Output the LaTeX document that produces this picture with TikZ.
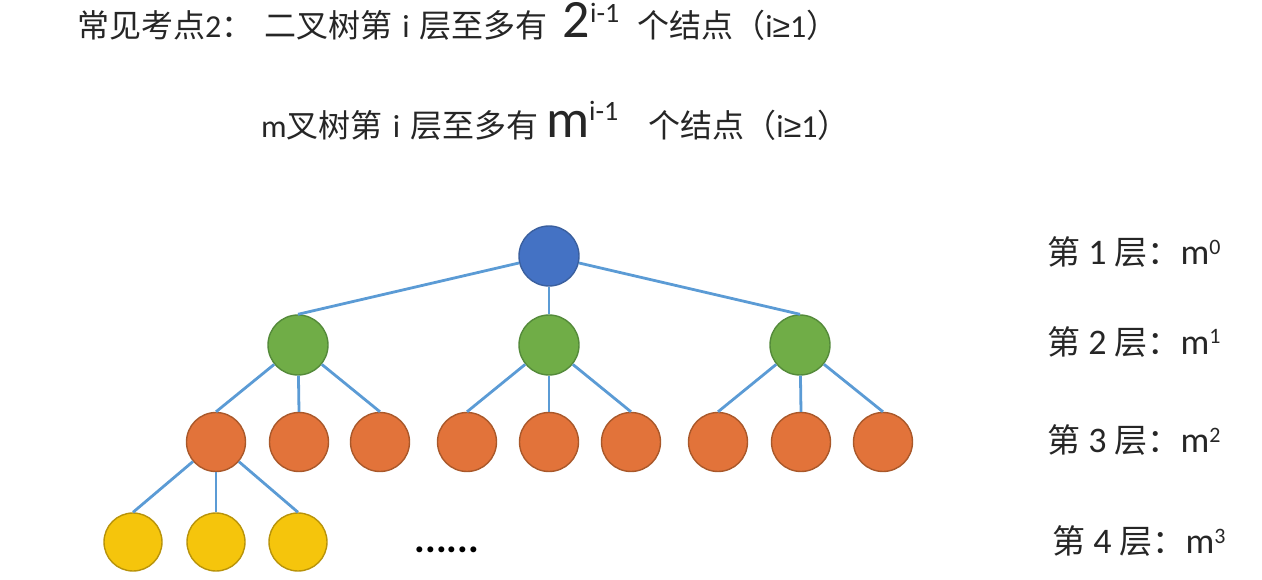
\documentclass[tikz,border=0pt]{standalone}
\usepackage{fontspec}
\setmainfont{Carlito}
\newfontfamily\cjk{Noto Sans CJK SC}
\newfontfamily\symf{Liberation Sans}
\definecolor{edgeblue}{HTML}{5B9BD5}
\definecolor{rootfill}{HTML}{4472C4}
\definecolor{rootline}{HTML}{3A5F9E}
\definecolor{grfill}{HTML}{70AD47}
\definecolor{grline}{HTML}{548A3A}
\definecolor{orfill}{HTML}{E2733A}
\definecolor{orline}{HTML}{A9582A}
\definecolor{yefill}{HTML}{F5C50C}
\definecolor{yeline}{HTML}{B8930A}
\definecolor{txt}{HTML}{262626}
\tikzset{
  tn/.style={circle, inner sep=0pt, line width=1.4pt},
  lvone/.style={tn, minimum size=60pt, fill=rootfill, draw=rootline},
  lvtwo/.style={tn, minimum size=60pt, fill=grfill, draw=grline},
  lvthree/.style={tn, minimum size=59pt, fill=orfill, draw=orline},
  lvfour/.style={tn, minimum size=58pt, fill=yefill, draw=yeline},
  edge/.style={draw=edgeblue, line width=2.8pt},
  lbl/.style={anchor=base west, inner sep=0pt, text=txt}
}
\newcommand{\titlefont}{\fontsize{32}{36}\selectfont}
\newcommand{\cjkt}[1]{{\cjk\fontsize{32}{36}\selectfont #1}}
\newcommand{\cjkr}[1]{{\cjk\fontsize{33}{38}\selectfont #1}}
\newcommand{\bigch}[1]{{\fontsize{54}{54}\selectfont #1}}
\newcommand{\supx}[2]{\raisebox{#1}{\fontsize{28}{28}\selectfont #2}}
\newcommand{\supr}[1]{\raisebox{10pt}{\fontsize{22}{22}\selectfont #1}}
\newcommand{\gesym}{{\symf ≥}}
\newcommand{\wi}{\hspace{10pt}i\hspace{10pt}}
\begin{document}
\begin{tikzpicture}[x=1pt,y=-1pt]
\useasboundingbox (0,0) rectangle (1262,580);
% titles
\node[lbl] (t1) at (77,38) {\titlefont\cjkt{常见考点}2\cjkt{：}\hspace{11pt}\cjkt{二叉树第}\wi\cjkt{层至多有}\hspace{15pt}\bigch{2}\supx{15pt}{i-1}\hspace{18pt}\cjkt{个结点（}i\gesym1\cjkt{）}};
\node[lbl] (t2) at (261,138) {\titlefont m\cjkt{叉树第}\wi\cjkt{层至多有}\hspace{8pt}\bigch{m}\supx{17pt}{i-1}\hspace{30pt}\cjkt{个结点（}i\gesym1\cjkt{）}};
% tree nodes
\node[lvone] (r) at (549,256) {};
\node[lvtwo] (a) at (298,345) {};
\node[lvtwo] (b) at (549,345) {};
\node[lvtwo] (c) at (800,345) {};
\node[lvthree] (a1) at (216,442) {};
\node[lvthree] (a2) at (299,442) {};
\node[lvthree] (a3) at (380,442) {};
\node[lvthree] (b1) at (467,442) {};
\node[lvthree] (b2) at (549,442) {};
\node[lvthree] (b3) at (631,442) {};
\node[lvthree] (c1) at (718,442) {};
\node[lvthree] (c2) at (801,442) {};
\node[lvthree] (c3) at (883,442) {};
\node[lvfour] (d1) at (133,542) {};
\node[lvfour] (d2) at (216,542) {};
\node[lvfour] (d3) at (298,542) {};
\foreach \p/\q in {r/a,r/b,r/c,a/a1,a/a2,a/a3,b/b1,b/b2,b/b3,c/c1,c/c2,c/c3,a1/d1,a1/d2,a1/d3}
  \draw[edge] (\p) -- (\q.north);
% dots
\node[anchor=base, inner sep=0pt, text=black] (dots) at (447,552) {\fontsize{40}{40}\selectfont\bfseries ......};
% right labels
\node[lbl] (l1) at (1047,265) {\fontsize{36}{40}\selectfont\cjkr{第} 1 \cjkr{层：}m\supr{0}};
\node[lbl] (l2) at (1047,354) {\fontsize{36}{40}\selectfont\cjkr{第} 2 \cjkr{层：}m\supr{1}};
\node[lbl] (l3) at (1047,452) {\fontsize{36}{40}\selectfont\cjkr{第} 3 \cjkr{层：}m\supr{2}};
\node[lbl] (l4) at (1052,553) {\fontsize{36}{40}\selectfont\cjkr{第} 4 \cjkr{层：}m\supr{3}};
\end{tikzpicture}
\end{document}
